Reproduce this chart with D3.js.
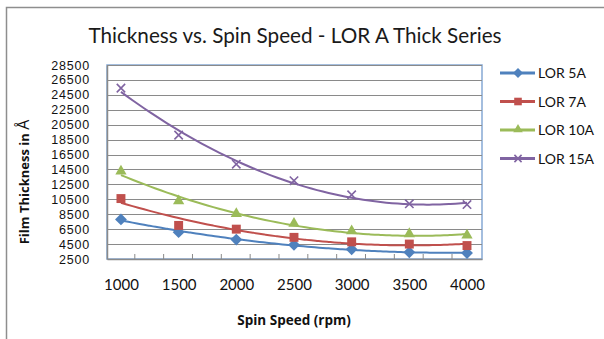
<!DOCTYPE html>
<html>
<head>
<meta charset="utf-8">
<script src="https://cdn.jsdelivr.net/npm/d3@7"></script>
<style>
  body { margin: 0; background: #fff; }
  svg { display: block; }
</style>
</head>
<body>
<svg id="chart" width="604" height="339"></svg>
<script>
// data
const speeds = [1000, 1500, 2000, 2500, 3000, 3500, 4000];
const seriesNames = ['LOR 5A', 'LOR 7A', 'LOR 10A', 'LOR 15A'];
const lor5A = [7800, 6100, 5100, 4400, 3800, 3400, 3300];
const lor7A = [10600, 7000, 6500, 5400, 4800, 4500, 4300];
const lor10A = [14200, 10200, 8500, 7200, 6200, 5800, 5600];
const lor15A = [25400, 19100, 15200, 13000, 11100, 9900, 9800];
const yTicks = [2500, 4500, 6500, 8500, 10500, 12500, 14500, 16500, 18500, 20500, 22500, 24500, 26500, 28500];
const xMinorTicks = [1120, 1370, 1620, 1870, 2120, 2370, 2620, 2870, 3120, 3370, 3620, 3870];

const colors = ['#4F81BD', '#C0504D', '#9BBB59', '#8064A2'];
const markers = ['diamond', 'square', 'triangle', 'x'];
const allSeries = [lor5A, lor7A, lor10A, lor15A];

const svg = d3.select('#chart');
const plot = { left: 107, right: 482, top: 65, bottom: 259 };

const x = d3.scaleLinear().domain([879, 4130]).range([plot.left, plot.right]);
const y = d3.scaleLinear().domain([2500, 28500]).range([plot.bottom, plot.top]);

// outer chart border
svg.append('rect')
    .attr('x', 6.5).attr('y', 7.5)
    .attr('width', 640).attr('height', 400)
    .attr('fill', 'none')
    .attr('stroke', '#8e8e8e')
    .attr('stroke-width', 1.5);

// title
svg.append('text')
    .attr('x', 295).attr('y', 43)
    .attr('text-anchor', 'middle')
    .attr('font-family', 'Lato, sans-serif')
    .attr('font-size', '20.7px')
    .attr('fill', '#1a1a1a')
    .text('Thickness vs. Spin Speed - LOR A Thick Series');

// plot area border
svg.append('rect')
    .attr('x', plot.left).attr('y', plot.top)
    .attr('width', plot.right - plot.left).attr('height', plot.bottom - plot.top)
    .attr('fill', 'none')
    .attr('stroke', '#86A9D4')
    .attr('stroke-width', 1.5);

// gridlines
svg.append('g')
    .selectAll('line')
    .data(yTicks.slice(1))
    .enter()
    .append('line')
    .attr('x1', plot.left).attr('x2', plot.right)
    .attr('y1', d => Math.round(y(d)) + 0.5)
    .attr('y2', d => Math.round(y(d)) + 0.5)
    .attr('stroke', '#8a8a8a')
    .attr('stroke-width', 1);

// y axis
const yAxis = svg.append('g')
    .attr('transform', `translate(${plot.left},0)`)
    .call(d3.axisLeft(y).tickValues(yTicks).tickSize(0).tickPadding(17).tickFormat(d3.format('d')));
yAxis.select('.domain').attr('stroke', '#8a8a8a').attr('stroke-width', 1.5);
yAxis.selectAll('text')
    .attr('font-family', '"Liberation Sans", Arial, sans-serif')
    .attr('font-size', '12.5px')
    .attr('letter-spacing', '0.8px')
    .attr('fill', '#111');

// x axis: labels at the data points, small inward ticks between
const xAxis = svg.append('g')
    .attr('transform', `translate(0,${plot.bottom})`)
    .call(d3.axisBottom(x).tickValues(speeds).tickSize(0).tickPadding(20).tickFormat(d3.format('d')));
xAxis.select('.domain').attr('stroke', '#8a8a8a').attr('stroke-width', 1.5);
xAxis.selectAll('text')
    .attr('font-family', 'Lato, sans-serif')
    .attr('font-size', '15px')
    .attr('fill', '#111');

svg.append('g')
    .selectAll('line')
    .data(xMinorTicks)
    .enter()
    .append('line')
    .attr('x1', d => x(d)).attr('x2', d => x(d))
    .attr('y1', plot.bottom).attr('y2', plot.bottom - 5)
    .attr('stroke', '#8a8a8a')
    .attr('stroke-width', 1);

// axis titles
const yTitle = svg.append('text')
    .attr('transform', 'translate(29,182) rotate(-90)')
    .attr('text-anchor', 'middle')
    .attr('font-family', '"Open Sans", sans-serif')
    .attr('font-weight', 'bold')
    .attr('font-size', '13px')
    .attr('fill', '#111');
yTitle.append('tspan').text('Film Thickness in ');
yTitle.append('tspan').attr('font-size', '16px').attr('font-weight', 'normal').text('Å');

svg.append('text')
    .attr('x', 294).attr('y', 325)
    .attr('text-anchor', 'middle')
    .attr('font-family', '"Open Sans", sans-serif')
    .attr('font-weight', 'bold')
    .attr('font-size', '13.5px')
    .attr('fill', '#111')
    .text('Spin Speed (rpm)');

// least squares quadratic through the points, like the Excel trendline
function quadFit(xs, ys) {
  let s = [0, 0, 0, 0, 0], t = [0, 0, 0];
  xs.forEach((xv, i) => {
    const u = xv / 1000;
    for (let k = 0; k < 5; k++) s[k] += Math.pow(u, k);
    for (let k = 0; k < 3; k++) t[k] += ys[i] * Math.pow(u, k);
  });
  const m = [
    [s[0], s[1], s[2], t[0]],
    [s[1], s[2], s[3], t[1]],
    [s[2], s[3], s[4], t[2]]
  ];
  for (let i = 0; i < 3; i++) {
    for (let j = i + 1; j < 3; j++) {
      const f = m[j][i] / m[i][i];
      for (let k = i; k < 4; k++) m[j][k] -= f * m[i][k];
    }
  }
  const c = [0, 0, 0];
  for (let i = 2; i >= 0; i--) {
    let v = m[i][3];
    for (let k = i + 1; k < 3; k++) v -= m[i][k] * c[k];
    c[i] = v / m[i][i];
  }
  return xv => { const u = xv / 1000; return c[0] + c[1] * u + c[2] * u * u; };
}

function markerPath(type, scale) {
  if (type === 'diamond') return d3.symbol(d3.symbolSquare, 70 * scale * scale)();
  if (type === 'square') return d3.symbol(d3.symbolSquare, 80 * scale * scale)();
  if (type === 'triangle') return d3.symbol(d3.symbolTriangle, 55 * scale * scale)();
  const r = 4.2 * scale;
  return `M${-r},${-r}L${r},${r}M${-r},${r}L${r},${-r}`;
}

function drawMarker(g, type, color, scale) {
  const p = g.append('path').attr('d', markerPath(type, scale));
  if (type === 'x') {
    p.attr('fill', 'none').attr('stroke', color).attr('stroke-width', 1.6);
  } else {
    p.attr('fill', color);
  }
  if (type === 'diamond') p.attr('transform', 'rotate(45)');
  if (type === 'triangle') p.attr('transform', 'translate(0,-0.5)');
  return p;
}

const line = d3.line().x(d => x(d[0])).y(d => y(d[1])).curve(d3.curveMonotoneX);
const samples = d3.range(1000, 4001, 50);

allSeries.forEach((vals, si) => {
  const f = quadFit(speeds, vals);
  svg.append('path')
      .datum(samples.map(s => [s, f(s)]))
      .attr('d', line)
      .attr('fill', 'none')
      .attr('stroke', colors[si])
      .attr('stroke-width', 2);
});

allSeries.forEach((vals, si) => {
  speeds.forEach((s, i) => {
    const g = svg.append('g').attr('transform', `translate(${x(s)},${y(vals[i])})`);
    drawMarker(g, markers[si], colors[si], 1);
  });
});

// legend
const legend = svg.append('g').attr('transform', 'translate(500,73)');
seriesNames.forEach((name, i) => {
  const row = legend.append('g').attr('transform', `translate(0,${i * 28.5})`);
  row.append('line')
      .attr('x1', 0).attr('x2', 35)
      .attr('stroke', colors[i])
      .attr('stroke-width', 3);
  const m = row.append('g').attr('transform', 'translate(18,0)');
  drawMarker(m, markers[i], colors[i], 0.85);
  row.append('text')
      .attr('x', 38).attr('y', 5)
      .attr('font-family', 'Lato, sans-serif')
      .attr('font-size', '14px')
      .attr('fill', '#111')
      .text(name);
});
</script>
</body>
</html>
